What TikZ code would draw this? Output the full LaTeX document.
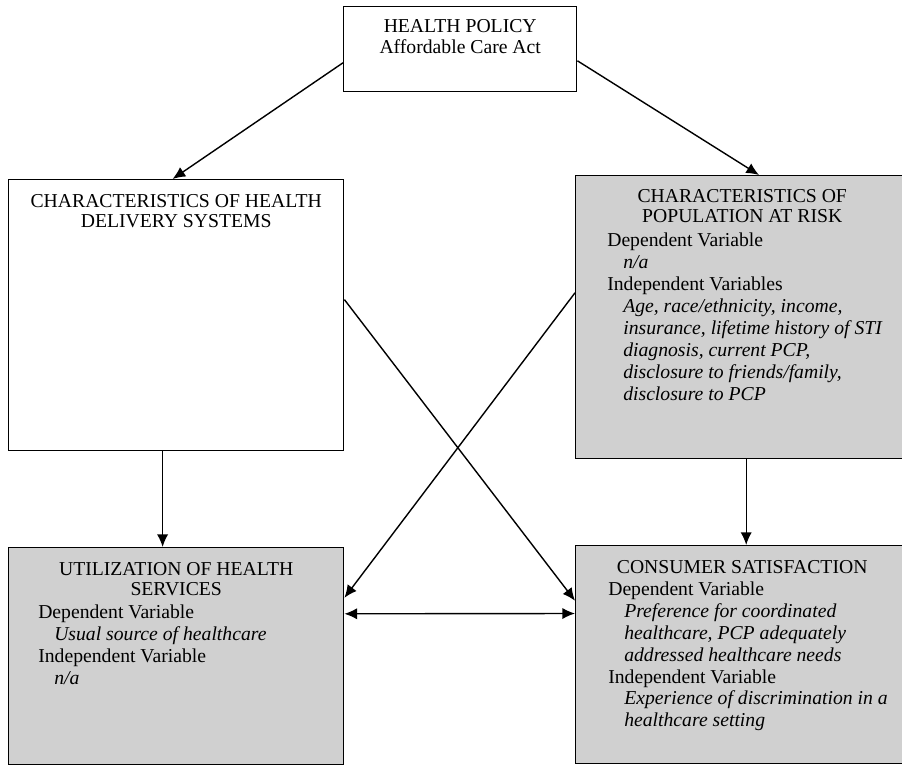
\documentclass[tikz,border=0pt]{standalone}
\usepackage{fontspec}
\setmainfont{Liberation Serif}
\usepackage{tikz}
\usetikzlibrary{arrows.meta}
\definecolor{panelgray}{RGB}{208,208,208}
\newcommand{\varline}[1]{\hspace*{0.4cm}\textit{#1}}

\begin{document}
\begin{tikzpicture}[
    frame/.style={draw, line width=1pt, inner sep=0pt, anchor=north west},
    title/.style={anchor=north, inner sep=0pt, align=center, font=\fontsize{14}{14.6}\selectfont},
    body/.style={anchor=north west, inner sep=0pt, align=left, font=\fontsize{14}{15.6}\selectfont},
    conn/.style={line width=1pt, -{Latex[length=9pt,width=8pt]}}
]
    \useasboundingbox (0,0) rectangle (22.55,-19.15);

    % Boxes
    \node[frame, minimum width=5.825cm, minimum height=2.125cm] (policy) at (8.575,-0.15) {};
    \node[frame, minimum width=8.375cm, minimum height=6.775cm] (delivery) at (0.2,-4.475) {};
    \node[frame, fill=panelgray, minimum width=8.325cm, minimum height=7.075cm] (population) at (14.375,-4.375) {};
    \node[frame, fill=panelgray, minimum width=8.375cm, minimum height=5.425cm] (utilization) at (0.2,-13.675) {};
    \node[frame, fill=panelgray, minimum width=8.325cm, minimum height=5.45cm] (satisfaction) at (14.375,-13.625) {};

    % Texts
    \node[title, yshift=-0.34cm] (policytxt) at (policy.north) {HEALTH POLICY\\Affordable Care Act};
    \node[title, yshift=-0.37cm] (deliverytxt) at (delivery.north) {CHARACTERISTICS OF HEALTH\\DELIVERY SYSTEMS};
    \node[title, yshift=-0.35cm] (populationtxt) at (population.north) {CHARACTERISTICS OF\\POPULATION AT RISK};
    \node[body, xshift=0.8cm, yshift=-1.44cm] (populationvar) at (population.north west) {Dependent Variable\\
        \varline{n/a}\\
        Independent Variables\\
        \varline{Age, race/ethnicity, income,}\\
        \varline{insurance, lifetime history of STI}\\
        \varline{diagnosis, current PCP,}\\
        \varline{disclosure to friends/family,}\\
        \varline{disclosure to PCP}};
    \node[title, yshift=-0.375cm] (utilizationtxt) at (utilization.north) {UTILIZATION OF HEALTH\\SERVICES};
    \node[body, xshift=0.75cm, yshift=-1.44cm] (utilizationvar) at (utilization.north west) {Dependent Variable\\
        \varline{Usual source of healthcare}\\
        Independent Variable\\
        \varline{n/a}};
    \node[title, yshift=-0.375cm] (satisfactiontxt) at (satisfaction.north) {CONSUMER SATISFACTION};
    \node[body, xshift=0.825cm, yshift=-0.91cm] (satisfactionvar) at (satisfaction.north west) {Dependent Variable\\
        \varline{Preference for coordinated}\\
        \varline{healthcare, PCP adequately}\\
        \varline{addressed healthcare needs}\\
        Independent Variable\\
        \varline{Experience of discrimination in a}\\
        \varline{healthcare setting}};

    % Arrows
    \draw[conn] ([yshift=-0.34cm]policy.west) -- ([xshift=-0.09cm]delivery.north);
    \draw[conn] ([yshift=-0.29cm]policy.east) -- ([xshift=0.42cm]population.north);
    \draw[conn] ([xshift=-0.34cm]delivery.south) -- ([xshift=-0.34cm]utilization.north);
    \draw[conn] ([xshift=0.1cm]population.south) -- ([xshift=0.1cm]satisfaction.north);
    \draw[conn] ([yshift=0.39cm]delivery.east) -- ([yshift=1.35cm]satisfaction.west);
    \draw[conn] ([yshift=0.61cm]population.west) -- ([yshift=1.46cm]utilization.east);
    \draw[conn, {Latex[length=9pt,width=8pt]}-{Latex[length=9pt,width=8pt]}] ([yshift=1.06cm]utilization.east) -- ([yshift=1.03cm]satisfaction.west);
\end{tikzpicture}
\end{document}
